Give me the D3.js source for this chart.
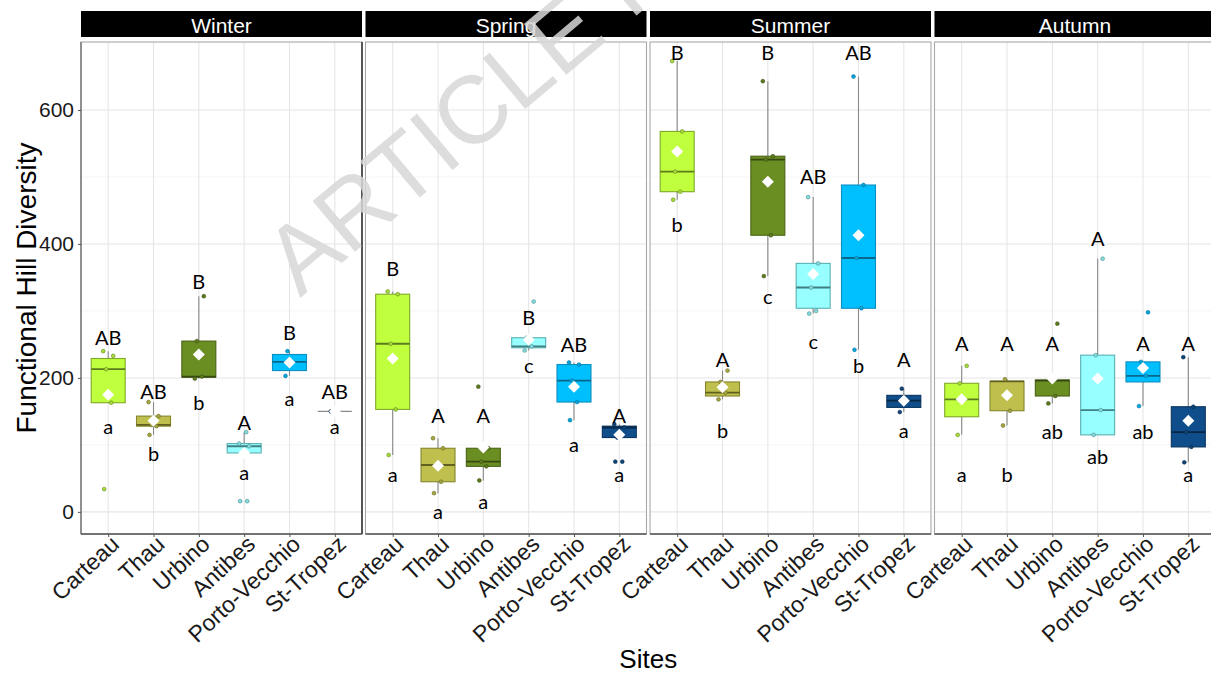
<!DOCTYPE html>
<html>
<head>
<meta charset="utf-8">
<script src="https://cdn.jsdelivr.net/npm/d3@7"></script>
<style>
  body { margin: 0; background: #fff; }
  svg { display: block; }
</style>
</head>
<body>
<svg id="chart" width="1211" height="674"></svg>
<script>
// ---- data -------------------------------------------------------------
const seasons = ["Winter", "Spring", "Summer", "Autumn"];
const sites = ["Carteau", "Thau", "Urbino", "Antibes", "Porto-Vecchio", "St-Tropez"];
const yTicks = [0, 200, 400, 600];
const yMinorTicks = [100, 300, 500];

const siteFill = ["#C0FF3E", "#BEBF4C", "#6B8E23", "#97FFFF", "#00BFFF", "#104E8B"];
const siteLine = ["#7FA82A", "#85862E", "#4A6418", "#5AAFB2", "#0B8EC0", "#0A3560"];

// rows: seasons, columns: sites
const whiskerLow = [
  [163, 115, 199, 88, 203, 150],
  [85, 28, 47, 241, 137, 111],
  [466, 168, 352, 296, 242, 149],
  [115, 129, 162, 115, 158, 74]
];
const q1 = [
  [163, 128, 201, 88, 211, 150],
  [153, 45, 68, 245, 164, 111],
  [478, 173, 413, 304, 304, 156],
  [142, 151, 173, 115, 194, 97]
];
const median = [
  [213, 130, 202, 98, 224, 150],
  [251, 70, 75, 247, 196, 126],
  [508, 178, 526, 335, 379, 166],
  [168, 195, 196, 152, 203, 119]
];
const q3 = [
  [229, 143, 255, 102, 235, 150],
  [325, 95, 95, 260, 220, 128],
  [568, 194, 531, 371, 488, 174],
  [192, 195, 197, 234, 224, 157]
];
const whiskerHigh = [
  [240, 164, 322, 119, 240, 150],
  [329, 110, 95, 260, 223, 131],
  [673, 211, 643, 470, 650, 184],
  [218, 198, 197, 378, 224, 231]
];
const means = [
  [175, 136, 235, 88, 223, 150],
  [229, 69, 96, 257, 187, 115],
  [538, 186, 493, 355, 413, 166],
  [168, 174, 199, 199, 215, 136]
];
const observations = [
  [[34, 163, 213, 233, 240], [115, 128, 130, 143, 164], [199, 202, 255, 322], [16, 16, 88, 98, 102, 119], [203, 224, 240], [150]],
  [[85, 153, 251, 325, 329], [28, 45, 70, 95, 110], [47, 68, 75, 95, 187], [241, 247, 260, 314], [137, 164, 196, 220, 223], [75, 75, 111, 126, 131]],
  [[466, 478, 508, 568, 673], [168, 178, 194, 211], [352, 413, 526, 531, 643], [296, 300, 335, 371, 470], [242, 304, 379, 488, 650], [149, 166, 184]],
  [[115, 168, 192, 218], [129, 151, 198], [162, 173, 197, 281], [115, 152, 234, 378], [158, 203, 224, 298], [74, 97, 119, 157, 231]]
];

// significance letters (upper case: between sites within a season; lower case: between seasons)
const upperLetters = [
  ["AB", "AB", "B", "A", "B", "AB"],
  ["B", "A", "A", "B", "AB", "A"],
  ["B", "A", "B", "AB", "AB", "A"],
  ["A", "A", "A", "A", "A", "A"]
];
const lowerLetters = [
  ["a", "b", "b", "a", "a", "a"],
  ["a", "a", "a", "c", "a", "a"],
  ["b", "b", "c", "c", "b", "a"],
  ["a", "b", "ab", "ab", "ab", "a"]
];
const upperLetterAt = [
  [261, 180, 345, 134, 268, 180],
  [364, 144, 144, 291, 251, 144],
  [686, 229, 686, 501, 686, 229],
  [252, 252, 252, 409, 252, 252]
];
const lowerLetterAt = [
  [128, 88, 164, 60, 170, 128],
  [56, 1, 16, 219, 102, 57],
  [430, 122, 322, 255, 220, 122],
  [56, 56, 121, 83, 121, 56]
];

// ---- layout -----------------------------------------------------------
const svg = d3.select("#chart");
const plotTop = 42, plotBottom = 534;
const stripTop = 11, stripBottom = 37;
const axisFont = "'Liberation Sans', Arial, sans-serif";
const letterFont = "Lato, 'Open Sans', sans-serif";

const panelX = d3.scaleBand().domain(seasons).range([81, 1215.5]).paddingInner(0.0123);
const y = d3.scaleLinear().domain([-33, 701.5]).range([plotBottom, plotTop]);
const jitter = [-4, 3, -2, 5, -5, 2, 0];

seasons.forEach((season, si) => {
  const x0 = panelX(season);
  const pw = panelX.bandwidth();
  const x = d3.scalePoint().domain(sites).range([x0, x0 + pw]).padding(0.6);
  const boxW = x.step() * 0.75;
  const g = svg.append("g");

  // panel background and grid
  g.append("rect").attr("x", x0).attr("y", plotTop).attr("width", pw)
    .attr("height", plotBottom - plotTop).attr("fill", "#fff");
  g.selectAll(".minor").data(yMinorTicks).join("line")
    .attr("x1", x0).attr("x2", x0 + pw)
    .attr("y1", d => y(d)).attr("y2", d => y(d))
    .attr("stroke", "#f2f2f2").attr("stroke-width", 0.8);
  g.selectAll(".major").data(yTicks).join("line")
    .attr("x1", x0).attr("x2", x0 + pw)
    .attr("y1", d => y(d)).attr("y2", d => y(d))
    .attr("stroke", "#e6e6e6").attr("stroke-width", 1.1);
  g.selectAll(".vgrid").data(sites).join("line")
    .attr("x1", d => x(d)).attr("x2", d => x(d))
    .attr("y1", plotTop).attr("y2", plotBottom)
    .attr("stroke", "#e6e6e6").attr("stroke-width", 1.1);

  // boxes
  sites.forEach((site, k) => {
    const cx = x(site);
    const bg = g.append("g");
    // whiskers
    bg.append("line").attr("x1", cx).attr("x2", cx)
      .attr("y1", y(q3[si][k])).attr("y2", y(whiskerHigh[si][k]))
      .attr("stroke", "#8a8a8a").attr("stroke-width", 1.1);
    bg.append("line").attr("x1", cx).attr("x2", cx)
      .attr("y1", y(q1[si][k])).attr("y2", y(whiskerLow[si][k]))
      .attr("stroke", "#8a8a8a").attr("stroke-width", 1.1);
    // box (a collapsed box is drawn as a thin grey bar)
    const flat = q3[si][k] === q1[si][k];
    bg.append("rect")
      .attr("x", cx - boxW / 2).attr("width", boxW)
      .attr("y", y(q3[si][k])).attr("height", y(q1[si][k]) - y(q3[si][k]))
      .attr("fill", siteFill[k]).attr("stroke", flat ? "#8a8a8a" : siteLine[k]).attr("stroke-width", 1.1);
    // median
    bg.append("line")
      .attr("x1", cx - boxW / 2).attr("x2", cx + boxW / 2)
      .attr("y1", y(median[si][k])).attr("y2", y(median[si][k]))
      .attr("stroke", flat ? "#8a8a8a" : d3.color(siteLine[k]).darker(0.9))
      .attr("stroke-width", flat ? 1.4 : 1.8);
    // observations
    bg.selectAll("circle").data(observations[si][k]).join("circle")
      .attr("cx", (d, i) => cx + jitter[i % jitter.length])
      .attr("cy", d => y(d)).attr("r", 1.9)
      .attr("fill", d3.color(siteFill[k]).darker(0.4))
      .attr("stroke", d3.color(siteLine[k]).darker(0.6)).attr("stroke-width", 0.6);
    // mean diamond
    const m = y(means[si][k]), h = 6;
    bg.append("path")
      .attr("d", `M${cx},${m - h}L${cx + h},${m}L${cx},${m + h}L${cx - h},${m}Z`)
      .attr("fill", "#fff");
    // letters
    bg.append("text").attr("x", cx).attr("y", y(upperLetterAt[si][k]))
      .attr("text-anchor", "middle").attr("dominant-baseline", "central")
      .attr("font-family", letterFont).attr("font-size", 20).attr("fill", "#000")
      .text(upperLetters[si][k]);
    bg.append("text").attr("x", cx).attr("y", y(lowerLetterAt[si][k]))
      .attr("text-anchor", "middle").attr("dominant-baseline", "central")
      .attr("font-family", letterFont).attr("font-size", 20).attr("fill", "#000")
      .text(lowerLetters[si][k]);
  });

  // panel border
  g.append("rect").attr("x", x0).attr("y", plotTop).attr("width", pw)
    .attr("height", plotBottom - plotTop).attr("fill", "none")
    .attr("stroke", "#a8a8a8").attr("stroke-width", 1.1);
  if (si === 0) {
    g.append("line").attr("x1", x0).attr("x2", x0).attr("y1", plotTop).attr("y2", plotBottom)
      .attr("stroke", "#666").attr("stroke-width", 1.2);
    g.append("line").attr("x1", x0 + pw).attr("x2", x0 + pw).attr("y1", plotTop).attr("y2", plotBottom)
      .attr("stroke", "#222").attr("stroke-width", 1.4);
  }
  // bottom axis line
  g.append("line").attr("x1", x0).attr("x2", x0 + pw)
    .attr("y1", plotBottom).attr("y2", plotBottom)
    .attr("stroke", "#555").attr("stroke-width", 1.4);

  // x axis ticks and labels
  const xAxis = d3.axisBottom(x).tickSize(3).tickPadding(4);
  const ax = svg.append("g").attr("transform", `translate(0,${plotBottom})`).call(xAxis);
  ax.select(".domain").remove();
  ax.selectAll(".tick line").attr("stroke", "#555");
  ax.selectAll(".tick text")
    .attr("font-family", axisFont).attr("font-size", 23).attr("fill", "#1a1a1a")
    .attr("text-anchor", "end")
    .attr("dy", null).attr("y", null)
    .attr("transform", "translate(12,12) rotate(-43)");

  // strip
  svg.append("rect").attr("x", x0).attr("y", stripTop).attr("width", pw)
    .attr("height", stripBottom - stripTop).attr("fill", "#000");
  svg.append("text").attr("x", x0 + pw / 2).attr("y", (stripTop + stripBottom) / 2 + 1)
    .attr("text-anchor", "middle").attr("dominant-baseline", "central")
    .attr("font-family", axisFont).attr("font-size", 21).attr("fill", "#fff")
    .text(season);
});

// y axis
const yAxis = d3.axisLeft(y).tickValues(yTicks).tickSize(3).tickPadding(4);
const ay = svg.append("g").attr("transform", `translate(${panelX(seasons[0])},0)`).call(yAxis);
ay.select(".domain").remove();
ay.selectAll(".tick line").attr("stroke", "#555");
ay.selectAll(".tick text").attr("font-family", axisFont).attr("font-size", 21).attr("fill", "#1a1a1a");

// axis titles
svg.append("text")
  .attr("transform", `translate(36,${(plotTop + plotBottom) / 2}) rotate(-90)`)
  .attr("text-anchor", "middle")
  .attr("font-family", axisFont).attr("font-size", 28).attr("fill", "#000")
  .text("Functional Hill Diversity");
svg.append("text")
  .attr("x", (panelX(seasons[0]) + 1215.5) / 2).attr("y", 668)
  .attr("text-anchor", "middle")
  .attr("font-family", axisFont).attr("font-size", 26).attr("fill", "#000")
  .text("Sites");

// watermark
svg.append("text")
  .attr("transform", "translate(300,298) rotate(-40)")
  .attr("font-family", axisFont).attr("font-size", 96).attr("fill", "#d8d8d8")
  .attr("opacity", 0.85)
  .text("ARTICLE IN PRESS");
</script>
</body>
</html>
